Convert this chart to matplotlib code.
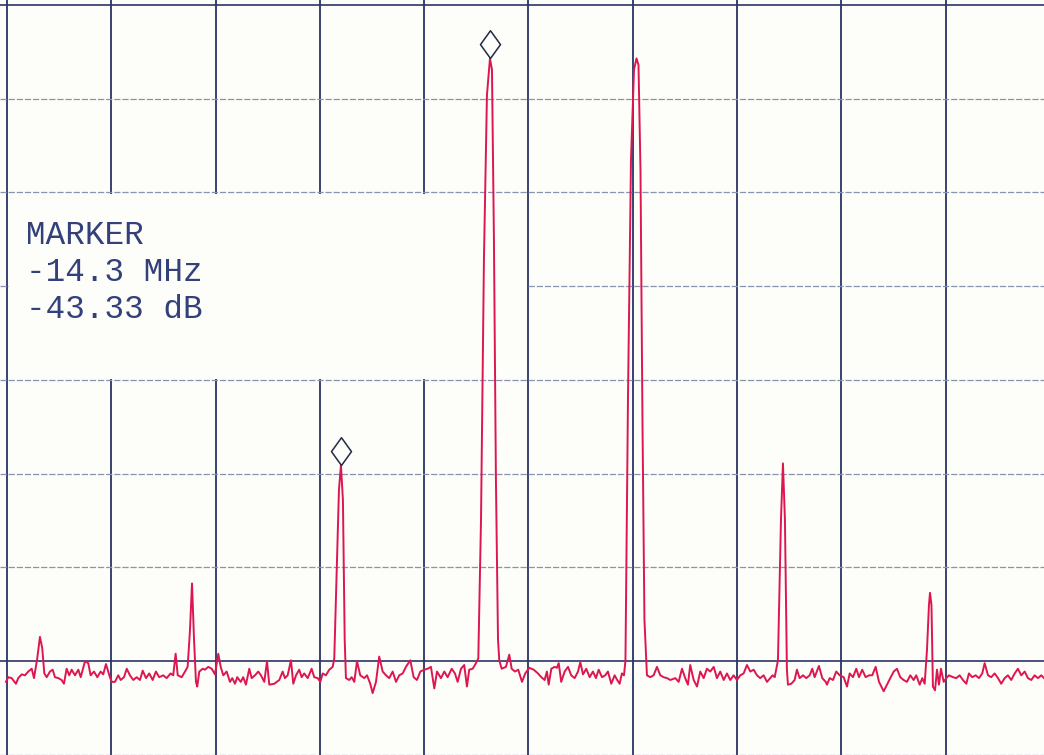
import matplotlib.pyplot as plt
from matplotlib.path import Path
from matplotlib.patches import Rectangle

# spectrum analyser trace, frequency offset from centre (MHz) and level (dB)
freq_mhz = [
    -50.10, -49.88, -49.55, -49.14, -48.92, -48.59, -48.28, -47.96, -47.63, -47.41,
    -47.10, -46.84, -46.62, -46.42, -46.19, -45.88, -45.62, -45.40, -45.08, -44.76,
    -44.54, -44.28, -44.03, -43.80, -43.48, -43.16, -42.93, -42.52, -42.21, -41.98,
    -41.66, -41.34, -41.02, -40.77, -40.51, -40.13, -39.96, -39.65, -39.33, -39.10,
    -38.78, -38.52, -38.21, -37.89, -37.57, -37.25, -36.99, -36.67, -36.36, -36.03,
    -35.72, -35.40, -35.02, -34.69, -34.31, -34.06, -33.83, -33.63, -33.25, -32.93,
    -32.68, -32.46, -32.26, -32.07, -31.88, -31.76, -31.56, -31.24, -31.02, -30.70,
    -30.37, -30.06, -29.74, -29.51, -29.26, -28.94, -28.62, -28.40, -28.14, -27.92,
    -27.59, -27.35, -27.09, -26.77, -26.54, -26.22, -25.91, -25.65, -25.33, -25.07,
    -24.85, -24.37, -23.89, -23.57, -23.35, -23.09, -22.77, -22.55, -22.29, -21.98,
    -21.75, -21.50, -21.17, -20.79, -20.54, -20.21, -19.96, -19.73, -19.42, -19.10,
    -18.77, -18.62, -18.36, -18.17, -17.98, -17.79, -17.62, -17.50, -17.18, -16.95,
    -16.70, -16.44, -16.13, -15.74, -15.48, -15.17, -14.94, -14.62, -14.31, -13.98,
    -13.66, -13.35, -13.02, -12.70, -12.39, -12.06, -11.75, -11.33, -11.01, -10.69,
    -10.37, -9.99, -9.66, -9.35, -9.03, -8.77, -8.39, -8.07, -7.75, -7.36,
    -7.05, -6.79, -6.47, -6.16, -5.90, -5.68, -5.35, -5.03, -4.81, -4.55,
    -4.27, -3.98, -3.69, -3.50, -3.31, -3.12, -2.92, -2.80, -2.57, -2.16,
    -1.84, -1.61, -1.29, -0.98, -0.62, -0.31, 0.08, 0.50, 0.91, 1.23,
    1.55, 1.77, 1.94, 2.19, 2.51, 2.73, 2.90, 3.14, 3.47, 3.79,
    4.10, 4.43, 4.75, 4.97, 5.23, 5.54, 5.87, 6.18, 6.47, 6.73,
    7.05, 7.36, 7.62, 7.94, 8.26, 8.51, 8.74, 8.96, 9.16, 9.30,
    9.54, 9.83, 10.12, 10.36, 10.55, 10.74, 10.93, 11.12, 11.36, 11.68,
    12.00, 12.32, 12.64, 12.96, 13.28, 13.60, 14.08, 14.40, 14.72, 15.03,
    15.29, 15.51, 15.84, 16.16, 16.47, 16.80, 17.11, 17.43, 17.76, 18.07,
    18.39, 18.72, 19.03, 19.35, 19.67, 19.99, 20.31, 20.63, 20.95, 21.27,
    21.59, 21.91, 22.22, 22.55, 22.87, 23.18, 23.41, 23.61, 23.92, 24.21,
    24.40, 24.59, 24.78, 24.88, 25.20, 25.52, 25.74, 26.00, 26.32, 26.64,
    26.96, 27.21, 27.44, 27.85, 28.17, 28.50, 28.62, 28.88, 29.20, 29.51,
    29.84, 30.22, 30.54, 30.80, 31.11, 31.43, 31.69, 32.00, 32.33, 32.65,
    32.96, 33.29, 33.61, 34.06, 34.37, 34.69, 35.02, 35.33, 35.65, 35.97,
    36.29, 36.61, 36.93, 37.18, 37.51, 37.76, 37.99, 38.21, 38.40, 38.50,
    38.64, 38.78, 38.98, 39.17, 39.36, 39.55, 39.81, 40.06, 40.32, 40.70,
    41.02, 41.34, 41.66, 41.98, 42.23, 42.55, 42.88, 43.19, 43.51, 43.74,
    44.06, 44.37, 44.70, 45.02, 45.33, 45.66, 45.97, 46.29, 46.62, 46.93,
    47.25, 47.58, 47.89, 48.21, 48.53, 48.85, 49.17, 49.43,
]
level_db = [
    -72.2, -71.7, -71.8, -72.4, -71.8, -71.4, -71.5, -71.1, -70.8, -71.8,
    -69.7, -67.4, -68.6, -71.3, -71.7, -71.1, -70.9, -71.7, -71.8, -72.0,
    -72.4, -70.8, -71.5, -70.9, -71.5, -70.9, -71.7, -70.0, -70.2, -71.5,
    -71.1, -71.7, -71.1, -71.4, -70.3, -71.7, -72.2, -72.2, -71.5, -72.0,
    -71.7, -70.8, -71.5, -72.0, -71.7, -72.0, -71.0, -71.8, -71.3, -72.0,
    -71.1, -71.7, -71.5, -71.8, -71.3, -71.5, -69.2, -71.5, -71.7, -71.1,
    -70.6, -66.8, -61.7, -67.6, -72.2, -72.7, -71.1, -70.8, -70.9, -70.6,
    -70.8, -71.4, -69.2, -70.6, -71.5, -71.1, -72.2, -71.8, -72.4, -71.7,
    -72.2, -71.7, -72.5, -70.8, -71.8, -71.5, -71.1, -71.5, -72.2, -70.0,
    -72.5, -72.4, -72.0, -71.1, -71.8, -71.5, -69.9, -72.4, -71.5, -70.9,
    -71.7, -71.3, -71.8, -70.8, -71.7, -71.8, -72.2, -71.3, -71.5, -70.9,
    -70.6, -69.7, -59.2, -51.7, -49.1, -52.8, -67.7, -71.8, -72.0, -71.7,
    -72.2, -70.0, -71.5, -71.8, -71.5, -72.4, -73.4, -72.2, -69.5, -71.1,
    -71.5, -71.8, -71.1, -72.2, -71.5, -71.3, -70.6, -69.9, -71.7, -72.0,
    -71.1, -70.9, -70.8, -70.6, -72.9, -71.1, -71.8, -71.1, -71.7, -70.8,
    -71.3, -72.2, -70.8, -70.4, -72.7, -70.9, -70.8, -70.2, -69.7, -54.9,
    -27.2, -9.6, -5.7, -6.9, -25.1, -50.7, -67.7, -69.9, -70.8, -70.6,
    -69.3, -70.8, -71.1, -70.9, -72.2, -71.3, -70.7, -70.9, -71.3, -71.7,
    -72.0, -71.1, -72.5, -70.8, -70.6, -70.7, -70.2, -72.2, -71.1, -70.6,
    -71.5, -71.8, -71.1, -70.1, -71.4, -70.8, -71.7, -71.1, -71.8, -70.9,
    -71.7, -71.5, -71.1, -72.4, -71.5, -72.0, -72.4, -71.3, -71.5, -69.9,
    -42.1, -16.5, -6.9, -5.7, -6.4, -17.6, -44.3, -65.6, -71.5, -71.7,
    -71.5, -70.6, -71.5, -71.7, -71.8, -72.0, -71.8, -72.2, -70.8, -71.8,
    -72.5, -70.4, -72.0, -72.7, -71.1, -71.8, -70.8, -71.1, -70.6, -71.8,
    -71.1, -72.0, -71.3, -72.0, -71.5, -72.0, -71.5, -71.3, -70.4, -71.1,
    -70.9, -71.5, -71.8, -71.5, -72.2, -71.8, -71.5, -71.7, -69.9, -54.9,
    -48.9, -54.9, -70.9, -72.5, -72.4, -72.0, -70.9, -71.8, -71.5, -71.8,
    -71.5, -70.8, -71.7, -70.5, -71.8, -72.2, -72.5, -71.8, -72.0, -71.1,
    -71.5, -71.7, -72.7, -71.3, -71.7, -70.8, -71.7, -70.9, -71.7, -71.5,
    -71.5, -70.6, -72.2, -73.2, -72.5, -71.8, -71.1, -70.8, -71.7, -72.0,
    -72.2, -71.5, -72.0, -71.5, -72.5, -71.8, -72.4, -68.8, -64.0, -62.7,
    -64.0, -72.7, -73.1, -70.9, -72.5, -70.8, -72.2, -71.8, -71.5, -71.7,
    -71.8, -71.5, -72.0, -72.4, -71.3, -71.7, -71.5, -71.8, -71.3, -70.2,
    -71.5, -71.7, -71.3, -71.8, -72.4, -71.8, -71.5, -72.0, -71.3, -70.8,
    -71.5, -71.1, -71.8, -72.0, -71.5, -71.8, -71.5, -71.8,
]

# marker positions (the diamonds sit on these peaks)
marker_freq = [-17.98, -3.69]
marker_level = [-49.1, -5.7]

marker_text = ['MARKER', '-14.3 MHz', '-43.33 dB']

grid_freq = [-50, -40, -30, -20, -10, 0, 10, 20, 30, 40, 50]
grid_level = [-80, -70, -60, -50, -40, -30, -20, -10, 0]
ref_level = -70

TRACE = '#de1650'
INK = '#2a3466'
PAPER = '#fdfdf9'

fig = plt.figure(figsize=(10.44, 7.55), dpi=100)
fig.patch.set_facecolor(PAPER)
ax = fig.add_axes([0, 0, 1, 1])
ax.set_facecolor(PAPER)
ax.set_xlim(-50.67, 49.43)
ax.set_ylim(-80, 0.53)

for f in grid_freq:
    ax.axvline(f, color=INK, lw=1.3, zorder=1)
for lv in grid_level:
    if lv in (ref_level, 0):
        ax.axhline(lv, color=INK, lw=1.4, alpha=0.85, zorder=1)
    else:
        ax.axhline(lv, color='#8a93ad', lw=0.9, ls=(0, (5, 1.5)), zorder=1)

# the readout box blanks out part of the graticule
ax.add_patch(Rectangle((-49.85, -39.88), 49.75, 19.76, facecolor=PAPER,
                       edgecolor='none', zorder=2))
for i, t in enumerate(marker_text):
    ax.text(-48.2, -24.6 - i * 3.95, t, family='Liberation Mono', fontsize=23.5,
            color='#33407a', va='center', ha='left', zorder=3)

ax.plot(freq_mhz, level_db, color=TRACE, lw=1.4, zorder=4, solid_joinstyle='round')

# diamond with its lower tip on the data point
diamond = Path([(0, 0), (0.72, 1), (0, 2), (-0.72, 1), (0, 0)],
               [Path.MOVETO, Path.LINETO, Path.LINETO, Path.LINETO, Path.CLOSEPOLY])
ax.plot(marker_freq, marker_level, ls='none', marker=diamond, markersize=40,
        markerfacecolor='none', markeredgecolor='#222a44', markeredgewidth=1.1, zorder=5)

ax.set_xticks([])
ax.set_yticks([])
for s in ax.spines.values():
    s.set_visible(False)

plt.savefig('out.png', dpi=100, facecolor=PAPER)
